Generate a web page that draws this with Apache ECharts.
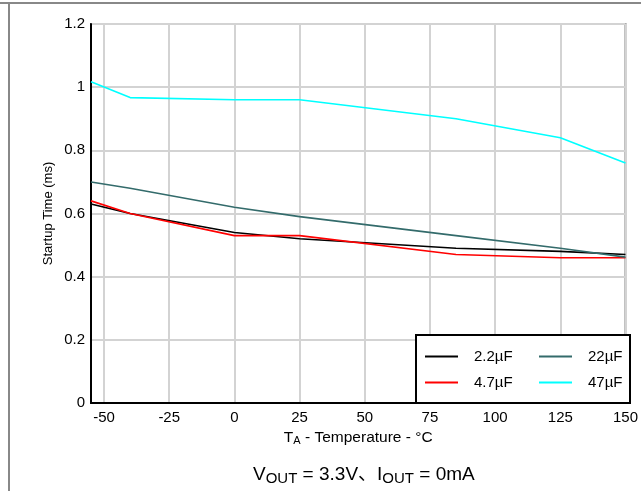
<!DOCTYPE html>
<html>
<head>
<meta charset="utf-8">
<script src="https://cdn.jsdelivr.net/npm/echarts@6/dist/echarts.min.js"></script>
<style>
html,body{margin:0;padding:0;background:#fff;}
#chart{width:641px;height:491px;}
</style>
</head>
<body>
<div id="chart"></div>
<script>
const temps = [-55, -40, 0, 25, 85, 125, 150];
const cap2_2 = [0.63, 0.60, 0.54, 0.52, 0.49, 0.48, 0.47];
const cap4_7 = [0.64, 0.60, 0.53, 0.53, 0.47, 0.46, 0.46];
const cap22 = [0.70, 0.68, 0.62, 0.59, 0.53, 0.49, 0.462];
const cap47 = [1.017, 0.967, 0.96, 0.96, 0.90, 0.84, 0.76];
const xTicks = [-50, -25, 0, 25, 50, 75, 100, 125, 150];
const seriesNames = ['2.2\u00b5F', '4.7\u00b5F', '22\u00b5F', '47\u00b5F'];
const seriesColors = ['#000000', '#ff0000', '#336b6b', '#00ffff'];
const seriesData = [cap2_2, cap4_7, cap22, cap47];

const FONT = '"Liberation Sans", Arial, "Noto Sans CJK SC", sans-serif';

const chart = echarts.init(document.getElementById('chart'), null, {renderer: 'canvas'});

const series = seriesNames.map((name, i) => ({
  name: name,
  type: 'line',
  data: temps.map((t, j) => [t, seriesData[i][j]]),
  showSymbol: false,
  symbol: 'none',
  color: seriesColors[i],
  lineStyle: {color: seriesColors[i], width: 1.6},
  animation: false
}));

const legendText = {fontFamily: FONT, fontSize: 15, color: '#000', padding: [0, 0, 0, 11]};

chart.setOption({
  animation: false,
  backgroundColor: '#ffffff',
  grid: {
    left: 91, top: 24, right: 10, bottom: 88,
    show: true, borderColor: '#888888', borderWidth: 2, backgroundColor: 'transparent'
  },
  title: {
    text: '{v|V}{s|OUT}{v| = 3.3V\u3001I}{s|OUT}{v| = 0mA}',
    left: 248, top: 458,
    textStyle: {
      fontWeight: 'normal',
      rich: {
        v: {fontFamily: FONT, fontSize: 19, fontWeight: 'normal', color: '#000'},
        s: {fontFamily: FONT, fontSize: 15, fontWeight: 'normal', color: '#000', padding: [8, 0, 0, 0]}
      }
    }
  },
  legend: [
    {
      data: [seriesNames[0], seriesNames[1]],
      orient: 'vertical', left: 424, top: 349, padding: 0,
      itemWidth: 33, itemHeight: 14, itemGap: 11,
      itemStyle: {opacity: 0},
      textStyle: legendText
    },
    {
      data: [seriesNames[2], seriesNames[3]],
      orient: 'vertical', left: 538, top: 349, padding: 0,
      itemWidth: 33, itemHeight: 14, itemGap: 11,
      itemStyle: {opacity: 0},
      textStyle: legendText
    }
  ],
  graphic: [
    {type: 'rect', z: 3, shape: {x: 416, y: 335, width: 214, height: 68},
     style: {fill: '#ffffff', stroke: '#000000', lineWidth: 2}},
    {type: 'line', z: 5, shape: {x1: 0, y1: 3, x2: 641, y2: 3},
     style: {stroke: '#888888', lineWidth: 2}},
    {type: 'line', z: 5, shape: {x1: 9, y1: 3, x2: 9, y2: 491},
     style: {stroke: '#888888', lineWidth: 2}}
  ],
  xAxis: {
    type: 'value', min: -55, max: 150,
    name: '{a|T}{s|A}{a| - Temperature - \u00b0C}',
    nameLocation: 'middle', nameGap: 23,
    nameTextStyle: {
      rich: {
        a: {fontFamily: FONT, fontSize: 15.5, color: '#000'},
        s: {fontFamily: FONT, fontSize: 11, color: '#000', padding: [7, 0, 0, 0]}
      }
    },
    axisLine: {show: true, onZero: false, lineStyle: {color: '#000', width: 2}},
    axisTick: {show: false, customValues: xTicks},
    axisLabel: {customValues: xTicks, fontFamily: FONT, fontSize: 15, color: '#000', margin: 7},
    splitLine: {show: true, lineStyle: {color: '#d3d3d3', width: 2}}
  },
  yAxis: {
    type: 'value', min: 0, max: 1.2, interval: 0.2,
    name: 'Startup Time (ms)',
    nameLocation: 'middle', nameGap: 36, nameRotate: 90, nameMoveOverlap: false,
    nameTextStyle: {fontFamily: FONT, fontSize: 13, color: '#000'},
    axisLine: {show: true, onZero: false, lineStyle: {color: '#000', width: 2}},
    axisTick: {show: false},
    axisLabel: {fontFamily: FONT, fontSize: 15, color: '#000', margin: 6},
    splitLine: {show: true, lineStyle: {color: '#d3d3d3', width: 2}}
  },
  series: series
});
</script>
</body>
</html>
